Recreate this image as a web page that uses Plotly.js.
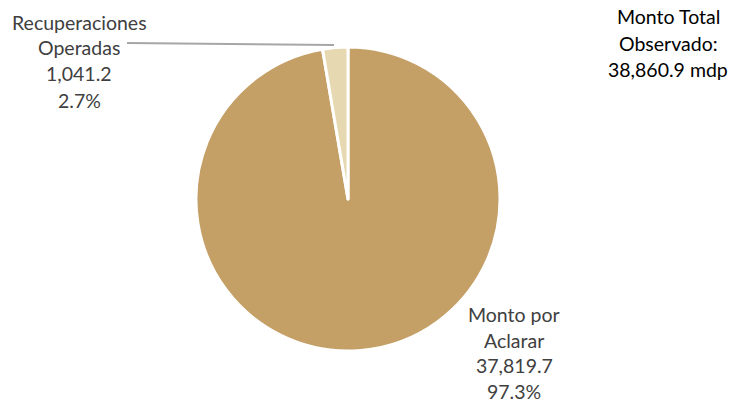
<!DOCTYPE html>
<html>
<head>
<meta charset="utf-8">
<script src="https://cdn.plot.ly/plotly-3.0.1.min.js"></script>
<style>
  html, body { margin: 0; padding: 0; background: #ffffff; }
  #chart { width: 730px; height: 405px; }
</style>
</head>
<body>
<div id="chart"></div>
<script>
// Montos en millones de pesos
const categorias = ["Monto por Aclarar", "Recuperaciones Operadas"];
const etiquetasLineas = [["Monto por", "Aclarar"], ["Recuperaciones", "Operadas"]];
const montos = [37819.7, 1041.2];
const colores = ["#C49F66", "#E6D8B1"];

const total = montos.reduce((a, b) => a + b, 0);
const fmt = v => v.toLocaleString("en-US", {minimumFractionDigits: 1, maximumFractionDigits: 1});
const pct = v => (v / total * 100).toFixed(1) + "%";

const W = 730, H = 405;
const px = x => x / W;
const py = y => 1 - y / H;

const trace = {
  type: "pie",
  labels: categorias,
  values: montos,
  marker: { colors: colores, line: { color: "#ffffff", width: 3 } },
  sort: false,
  direction: "clockwise",
  rotation: 0,
  textinfo: "none",
  hoverinfo: "label+value+percent",
  showlegend: false,
  domain: { x: [px(196), px(500)], y: [py(351), py(47)] }
};

const fuente = { family: "Lato, 'Open Sans', sans-serif", size: 19.5, color: "#404040" };
const annotations = [];

function bloque(lineas, cx, ys, font) {
  lineas.forEach((t, i) => {
    annotations.push({
      xref: "paper", yref: "paper", x: px(cx), y: py(ys[i]),
      xanchor: "center", yanchor: "middle", showarrow: false,
      text: t, font: font
    });
  });
}

// Etiqueta del segmento grande
bloque([...etiquetasLineas[0], fmt(montos[0]), pct(montos[0])], 514, [314, 340, 365, 391], fuente);
// Etiqueta del segmento pequeño
bloque([...etiquetasLineas[1], fmt(montos[1]), pct(montos[1])], 79, [22, 48, 74, 100], fuente);
// Total observado
bloque(["Monto Total", "Observado:", fmt(total) + " mdp"], 668, [17, 43, 69],
       { family: fuente.family, size: 19.5, color: "#000000" });

const layout = {
  width: W, height: H,
  margin: { l: 0, r: 0, t: 0, b: 0 },
  paper_bgcolor: "#ffffff",
  plot_bgcolor: "#ffffff",
  annotations: annotations,
  shapes: [{
    type: "line", xref: "paper", yref: "paper",
    x0: px(127), y0: py(43), x1: px(334), y1: py(45),
    line: { color: "#A6A6A6", width: 2 }
  }]
};

Plotly.newPlot("chart", [trace], layout, { displayModeBar: false, staticPlot: true });
</script>
</body>
</html>
